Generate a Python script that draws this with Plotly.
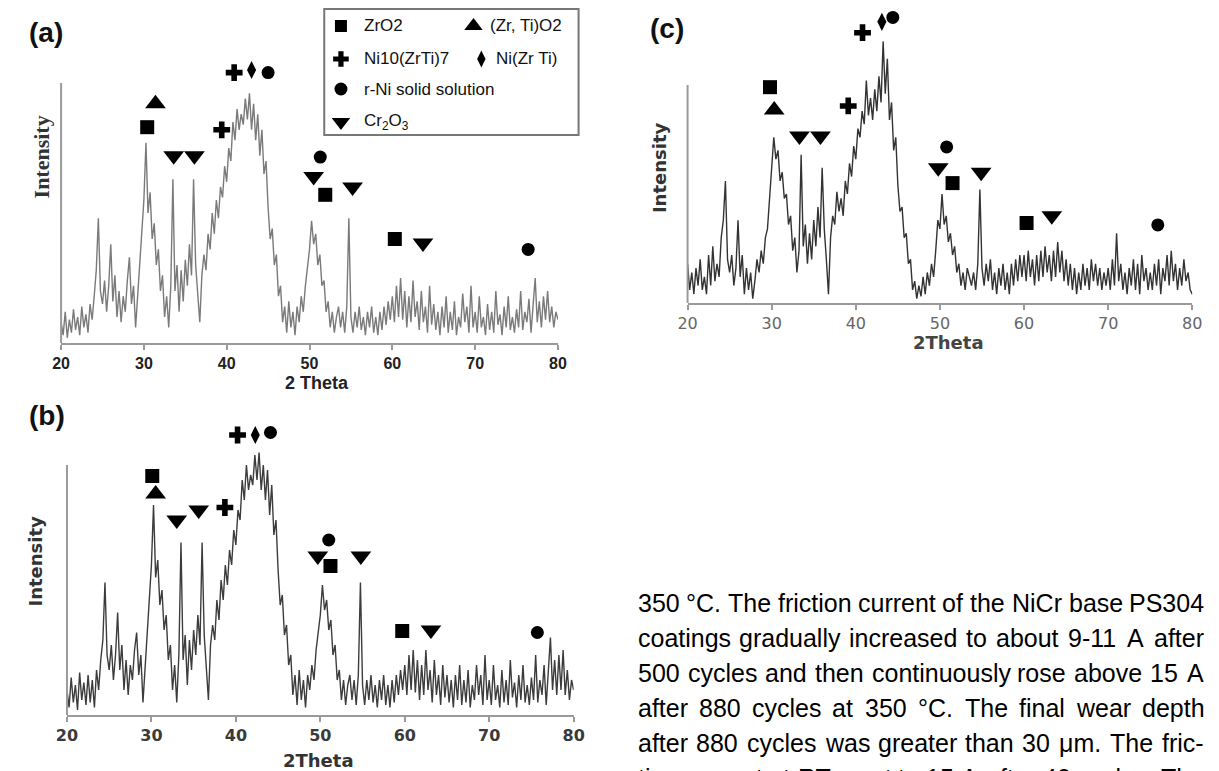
import plotly.graph_objects as go

W, H = 1219, 771

# ---------------- data ----------------
# 2-theta sampling grid, 0.25 degree steps from 20 to 80
two_theta = [20 + 0.25 * i for i in range(241)]

# intensities in % of the drawn y-axis height
intensity_a = [
    8, 3, 12, 2, 9, 4, 13, 5, 10, 3, 14, 6, 11, 4, 15, 9, 18, 28, 48, 20,
    15, 24, 12, 22, 38, 16, 26, 10, 20, 8, 18, 12, 24, 33, 15, 22, 6, 18, 28, 40,
    55, 77, 50, 58, 40, 46, 30, 36, 20, 26, 10, 18, 6, 22, 63, 20, 30, 12, 28, 16,
    32, 22, 38, 26, 63, 30, 18, 8, 26, 34, 28, 42, 36, 50, 42, 55, 48, 60, 56, 68,
    62, 75, 70, 85, 78, 90, 82, 88, 84, 94, 86, 96, 82, 92, 78, 88, 72, 82, 65, 70,
    52, 40, 44, 30, 34, 18, 22, 8, 14, 4, 16, 6, 12, 3, 14, 8, 18, 12, 22, 28,
    36, 47, 38, 42, 30, 34, 22, 24, 12, 16, 6, 12, 4, 10, 14, 6, 12, 4, 14, 48,
    10, 4, 12, 6, 14, 5, 10, 3, 12, 6, 14, 4, 10, 3, 12, 5, 14, 7, 16, 9,
    18, 8, 22, 10, 25, 9, 20, 6, 18, 8, 24, 10, 16, 5, 20, 8, 14, 4, 22, 7,
    15, 5, 12, 3, 14, 6, 18, 4, 12, 5, 16, 3, 10, 6, 19, 8, 14, 4, 22, 6,
    12, 4, 18, 6, 10, 3, 15, 5, 12, 4, 20, 7, 11, 3, 14, 6, 18, 5, 10, 4,
    13, 6, 20, 5, 12, 8, 17, 4, 14, 25, 8, 16, 6, 18, 9, 20, 8, 14, 6, 12, 9,
]
intensity_b = [
    10, 3, 15, 5, 12, 2, 17, 6, 13, 4, 16, 5, 14, 3, 18, 10, 22, 30, 53, 24,
    18, 28, 14, 24, 41, 18, 28, 10, 22, 8, 20, 14, 26, 33, 16, 24, 5, 20, 30, 45,
    60, 84, 55, 62, 44, 50, 34, 40, 22, 28, 10, 20, 5, 24, 69, 22, 32, 12, 30, 18,
    34, 24, 40, 28, 69, 32, 20, 6, 28, 36, 30, 46, 38, 54, 46, 60, 52, 66, 60, 74,
    68, 82, 78, 94, 86, 100, 90, 96, 92, 104, 94, 105, 90, 100, 86, 98, 80, 92, 72, 78,
    58, 44, 48, 32, 36, 20, 24, 8, 16, 4, 18, 6, 14, 3, 16, 10, 20, 14, 26, 34,
    40, 52, 42, 46, 34, 38, 24, 28, 14, 18, 6, 14, 4, 12, 16, 6, 14, 4, 16, 53,
    12, 4, 14, 6, 16, 5, 12, 3, 14, 6, 16, 4, 12, 3, 14, 5, 16, 8, 18, 10,
    20, 8, 24, 10, 26, 9, 22, 6, 20, 8, 26, 10, 18, 5, 22, 8, 16, 4, 20, 7,
    16, 5, 14, 3, 16, 6, 20, 4, 14, 5, 18, 3, 12, 6, 20, 8, 16, 4, 24, 6,
    14, 4, 20, 6, 12, 3, 18, 5, 14, 4, 22, 7, 13, 3, 16, 6, 20, 5, 12, 4,
    15, 6, 24, 5, 14, 8, 20, 4, 16, 31, 10, 22, 8, 24, 10, 26, 8, 18, 6, 14, 10,
]
intensity_c = [
    18, 6, 14, 4, 16, 8, 20, 6, 12, 4, 22, 8, 26, 10, 18, 12, 30, 38, 56, 20,
    14, 22, 8, 16, 38, 12, 22, 4, 16, 6, 14, 2, 10, 20, 14, 24, 18, 30, 34, 48,
    62, 76, 66, 70, 56, 60, 48, 50, 36, 40, 24, 30, 14, 24, 68, 26, 36, 18, 32, 20,
    38, 26, 44, 30, 62, 34, 20, 4, 30, 40, 36, 51, 42, 48, 40, 56, 50, 64, 58, 72,
    66, 80, 76, 88, 82, 102, 86, 94, 84, 98, 88, 104, 92, 120, 96, 112, 84, 92, 70, 76,
    54, 42, 44, 30, 32, 18, 20, 6, 10, 2, 8, 3, 12, 4, 14, 8, 18, 12, 24, 38,
    34, 50, 36, 40, 28, 32, 22, 26, 14, 18, 8, 14, 6, 16, 12, 8, 14, 6, 18, 52,
    16, 8, 18, 10, 20, 6, 14, 4, 16, 8, 18, 6, 14, 4, 18, 8, 20, 10, 22, 12,
    22, 10, 24, 12, 20, 8, 22, 10, 24, 12, 26, 14, 22, 10, 24, 12, 28, 14, 24, 10,
    20, 8, 18, 6, 16, 4, 14, 6, 18, 8, 16, 6, 20, 10, 18, 8, 16, 6, 14, 8,
    16, 6, 20, 8, 32, 10, 18, 6, 14, 4, 16, 8, 20, 6, 18, 4, 22, 10, 16, 6,
    14, 6, 18, 8, 20, 4, 16, 10, 22, 8, 24, 10, 18, 6, 16, 8, 20, 10, 14, 6, 4,
]

phase_names = ["ZrO2", "(Zr, Ti)O2", "Ni10(ZrTi)7", "Ni(Zr Ti)",
               "r-Ni solid solution", "Cr<sub>2</sub>O<sub>3</sub>"]

# peak labels: (phase index, 2theta, height in % of axis)
peaks_a = [
    (0, 30.4, 83), (0, 51.9, 57), (0, 60.3, 40),
    (1, 31.4, 92),
    (2, 39.4, 82), (2, 40.9, 104),
    (3, 43.0, 105),
    (4, 45.0, 104), (4, 51.3, 71.5), (4, 76.4, 36),
    (5, 33.6, 72), (5, 36.1, 72), (5, 50.5, 64), (5, 55.2, 60), (5, 63.7, 38.5),
]
peaks_b = [
    (0, 30.1, 95.6), (0, 51.2, 59.6), (0, 59.7, 33.6),
    (1, 30.5, 88.4),
    (2, 38.7, 83), (2, 40.2, 112),
    (3, 42.3, 112),
    (4, 44.1, 113), (4, 51.0, 70), (4, 75.7, 33),
    (5, 33.0, 78), (5, 35.6, 82), (5, 49.7, 63.6), (5, 54.8, 63.6), (5, 63.1, 34),
]
peaks_c = [
    (0, 29.8, 99), (0, 51.5, 55), (0, 60.3, 36.7),
    (1, 30.3, 88.5),
    (2, 39.1, 90.4), (2, 40.8, 124),
    (3, 43.1, 129),
    (4, 44.4, 131), (4, 50.8, 71.6), (4, 75.9, 35.8),
    (5, 33.3, 76.6), (5, 35.8, 76.6), (5, 49.8, 62), (5, 54.9, 60), (5, 63.3, 40),
]

x_ticks = [20, 30, 40, 50, 60, 70, 80]

paragraph = [
    "350 °C. The friction current of the NiCr base PS304",
    "coatings gradually increased to about 9-11 A after",
    "500 cycles and then continuously rose above 15 A",
    "after 880 cycles at 350 °C. The final wear depth",
    "after 880 cycles was greater than 30 μm. The fric-",
    "tion current at RT went to 15 A after 40 cycles. The",
]

# ---------------- styling / geometry ----------------
symbols = ["square", "triangle-up", "cross", "diamond-tall", "circle", "triangle-down"]
sizes = [14, 18, 14, 13, 13, 18]
legend_sizes = [12, 16, 13, 12, 13, 16]


def px_x(p):
    return p / W


def px_y(p):
    return 1 - p / H


panels = [
    dict(name="a", xs="x", ys="y", data=intensity_a, peaks=peaks_a, color="#7a7a7a",
         left=51, right=557, base=343, top=83, ymax=120),
    dict(name="b", xs="x2", ys="y2", data=intensity_b, peaks=peaks_b, color="#3c3c3c",
         left=57, right=573, base=715, top=465, ymax=125),
    dict(name="c", xs="x3", ys="y3", data=intensity_c, peaks=peaks_c, color="#333333",
         left=689, right=1203, base=303, top=85, ymax=138),
]

fig = go.Figure()
layout = dict(width=W, height=H, margin=dict(l=0, r=0, t=0, b=0),
              paper_bgcolor="white", plot_bgcolor="rgba(0,0,0,0)",
              showlegend=False, shapes=[], annotations=[])

tickfonts = [
    dict(family="Liberation Sans, Arial", size=16, color="#222", weight="bold"),
    dict(family="DejaVu Sans", size=16, color="#3a3a3a", weight="bold"),
    dict(family="DejaVu Sans", size=16, color="#666"),
]

for i, p in enumerate(panels):
    suf = "" if i == 0 else str(i + 1)
    ppu = (p["base"] - p["top"]) / 100.0
    top_px = p["base"] - p["ymax"] * ppu
    layout["xaxis" + suf] = dict(
        domain=[px_x(p["left"]), px_x(p["right"])], range=[20, 80],
        anchor="y" + suf, showline=True, linecolor="#9a9a9a", linewidth=2,
        ticks="outside", ticklen=5, tickwidth=1.5, tickcolor="#9a9a9a",
        tickvals=x_ticks, tickfont=tickfonts[i], showgrid=False, zeroline=False)
    layout["yaxis" + suf] = dict(
        domain=[px_y(p["base"]), px_y(top_px)], range=[0, p["ymax"]],
        anchor="x" + suf, showline=False, showticklabels=False, ticks="",
        showgrid=False, zeroline=False)
    fig.add_trace(go.Scatter(x=two_theta, y=p["data"], mode="lines",
                             line=dict(color=p["color"], width=1.4),
                             xaxis=p["xs"], yaxis=p["ys"], hoverinfo="skip"))
    for k in range(6):
        pts = [(x, y) for (ph, x, y) in p["peaks"] if ph == k]
        fig.add_trace(go.Scatter(
            x=[q[0] for q in pts], y=[q[1] for q in pts], mode="markers",
            marker=dict(symbol=symbols[k], size=sizes[k], color="black",
                        line=dict(width=0)),
            xaxis=p["xs"], yaxis=p["ys"], cliponaxis=False, hoverinfo="skip"))
    # vertical axis line
    layout["shapes"].append(dict(type="line", xref="paper", yref="paper",
                                 x0=px_x(p["left"]), x1=px_x(p["left"]),
                                 y0=px_y(p["base"]), y1=px_y(p["top"]),
                                 line=dict(color="#9a9a9a", width=2)))

# overlay pixel axis for the legend symbols
layout["xaxis4"] = dict(domain=[0, 1], range=[0, W], visible=False, anchor="y4")
layout["yaxis4"] = dict(domain=[0, 1], range=[H, 0], visible=False, anchor="x4")

legend_pos = [(336, 26), (471, 26), (336, 59), (479, 59), (336, 89), (336, 122)]
legend_text_x = [358, 487, 358, 493, 358, 358]
for k in range(6):
    fig.add_trace(go.Scatter(x=[legend_pos[k][0]], y=[legend_pos[k][1]], mode="markers",
                             marker=dict(symbol=symbols[k], size=legend_sizes[k],
                                         color="black", line=dict(width=0)),
                             xaxis="x4", yaxis="y4", hoverinfo="skip"))
    layout["annotations"].append(dict(
        x=px_x(legend_text_x[k]), y=px_y(legend_pos[k][1]), xref="paper", yref="paper",
        text=phase_names[k], showarrow=False, xanchor="left", yanchor="middle",
        borderpad=0, font=dict(family="Liberation Sans, Arial", size=17, color="#111")))
layout["shapes"].append(dict(type="rect", xref="paper", yref="paper",
                             x0=px_x(319), x1=px_x(578), y0=px_y(135), y1=px_y(9),
                             line=dict(color="#777", width=2)))


def ann(text, x, y, font, angle=0):
    layout["annotations"].append(dict(
        x=px_x(x), y=px_y(y), xref="paper", yref="paper", text=text,
        showarrow=False, xanchor="center", yanchor="middle", textangle=angle,
        borderpad=0, font=font))


# panel letters
letter_font = dict(family="Liberation Sans, Arial", size=28, color="#111", weight="bold")
ann("(a)", 36, 33, letter_font)
ann("(b)", 37, 415, letter_font)
ann("(c)", 668, 29, letter_font)

# axis titles
ann("2 Theta", 312, 383, dict(family="Liberation Sans, Arial", size=18, color="#222", weight="bold"))
ann("2Theta", 313, 760, dict(family="DejaVu Sans", size=18, color="#333", weight="bold"))
ann("2Theta", 955, 342, dict(family="DejaVu Sans", size=18, color="#444", weight="bold"))
ann("Intensity", 32, 157, dict(family="Liberation Serif, Times New Roman", size=22,
                                color="#333", weight="bold"), -90)
ann("Intensity", 24, 561, dict(family="DejaVu Sans", size=18, color="#333", weight="bold"), -90)
ann("Intensity", 660, 168, dict(family="DejaVu Sans", size=18, color="#333", weight="bold"), -90)

# justified paragraph (Arial / Liberation Sans advance widths, per 1000 em)
cw = {' ': 278, '°': 400, '.': 278, '-': 333, 'μ': 576,
      'A': 667, 'C': 722, 'N': 722, 'P': 667, 'R': 722, 'S': 667, 'T': 611,
      'a': 556, 'b': 556, 'c': 500, 'd': 556, 'e': 556, 'f': 278, 'g': 556,
      'h': 556, 'i': 222, 'l': 222, 'm': 833, 'n': 556, 'o': 556, 'p': 556,
      'r': 333, 's': 500, 't': 278, 'u': 556, 'v': 500, 'w': 722, 'y': 500}
FS = 25
TX0, TX1 = 637, 1213
for li, line in enumerate(paragraph):
    words = line.split(" ")
    widths = [sum(cw.get(ch, 556) for ch in w_) * FS / 1000.0 for w_ in words]
    gap = (TX1 - TX0 - sum(widths)) / (len(words) - 1)
    xpos = TX0
    yc = 603 + 35 * li
    for w_, wd in zip(words, widths):
        layout["annotations"].append(dict(
            x=px_x(xpos), y=px_y(yc), xref="paper", yref="paper", text=w_,
            showarrow=False, xanchor="left", yanchor="middle", borderpad=0,
            font=dict(family="Liberation Sans, Arial", size=FS, color="black")))
        xpos += wd + gap

fig.update_layout(**layout)
fig.write_html("out.html", config={"displayModeBar": False},
               post_script="document.body.style.margin='0px';document.body.style.overflow='hidden';")
